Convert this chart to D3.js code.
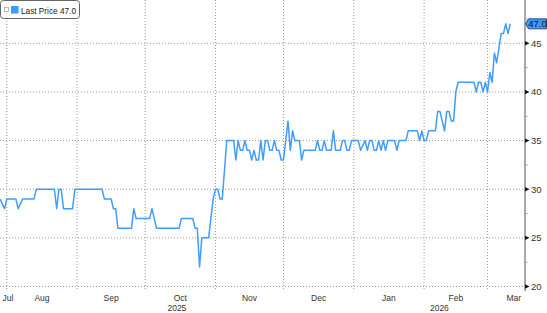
<!DOCTYPE html>
<html>
<head>
<meta charset="utf-8">
<script src="https://cdn.jsdelivr.net/npm/d3@7"></script>
<style>
  body { margin: 0; background: #fff; }
  .chart text { font-family: "Liberation Sans", Arial, sans-serif; }
  .grid line { stroke: #9a9a9a; stroke-width: 1; stroke-dasharray: 1,2; }
</style>
</head>
<body>
<div class="chart"></div>
<script>
// price history
const dates = [
  "2025-07-29","2025-07-31","2025-08-01","2025-08-05","2025-08-06","2025-08-08","2025-08-13","2025-08-14",
  "2025-08-22","2025-08-23","2025-08-24","2025-08-25","2025-08-26","2025-08-30","2025-08-31","2025-09-12",
  "2025-09-13","2025-09-16","2025-09-17","2025-09-18","2025-09-19","2025-09-25","2025-09-26","2025-09-27",
  "2025-10-03","2025-10-04","2025-10-06","2025-10-16","2025-10-17","2025-10-22","2025-10-23","2025-10-24",
  "2025-10-25","2025-10-26","2025-10-29","2025-10-31","2025-11-01","2025-11-02","2025-11-03","2025-11-04",
  "2025-11-06","2025-11-09","2025-11-10","2025-11-11","2025-11-12","2025-11-13","2025-11-14","2025-11-15",
  "2025-11-16","2025-11-17","2025-11-18","2025-11-19","2025-11-20","2025-11-21","2025-11-22","2025-11-23",
  "2025-11-24","2025-11-25","2025-11-26","2025-11-27","2025-11-28","2025-11-29","2025-11-30","2025-12-01",
  "2025-12-02","2025-12-03","2025-12-04","2025-12-05","2025-12-06","2025-12-08","2025-12-09","2025-12-10",
  "2025-12-15","2025-12-16","2025-12-17","2025-12-18","2025-12-19","2025-12-20","2025-12-22","2025-12-23",
  "2025-12-24","2025-12-26","2025-12-27","2025-12-28","2025-12-29","2025-12-30","2025-12-31","2026-01-03",
  "2026-01-04","2026-01-06","2026-01-07","2026-01-08","2026-01-09","2026-01-10","2026-01-11","2026-01-12",
  "2026-01-13","2026-01-14","2026-01-15","2026-01-16","2026-01-19","2026-01-20","2026-01-21","2026-01-24",
  "2026-01-25","2026-01-29","2026-01-30","2026-01-31","2026-02-01","2026-02-02","2026-02-03","2026-02-06",
  "2026-02-07","2026-02-08","2026-02-10","2026-02-11","2026-02-12","2026-02-13","2026-02-14","2026-02-15",
  "2026-02-16","2026-02-23","2026-02-24","2026-02-25","2026-02-26","2026-02-27","2026-02-28","2026-03-01",
  "2026-03-02","2026-03-03","2026-03-04","2026-03-05","2026-03-07","2026-03-08","2026-03-09","2026-03-10",
  "2026-03-11"
]
const prices = [
  29,28,29,29,28,29,29,30,
  30,28,30,30,28,28,30,30,
  29,29,28,28,26,26,28,27,
  27,28,26,26,27,27,26,26,
  22,25,25,29,30,30,29,29,
  35,35,33,35,34,34,35,34,
  34,33,34,33,33,35,33,35,
  35,34,34,35,34,34,33,33,
  35,37,34,36,35,35,33,34,
  34,35,34,34,35,34,34,36,
  34,34,35,35,34,34,35,35,
  34,35,34,35,35,34,34,35,
  34,35,34,35,35,34,35,35,
  36,36,35,36,35,35,36,36,
  38,38,36,38,38,37,37,40,
  41,41,40,41,41,40,41,40,
  42,41,44,43,46,46,47,46,
  47
]
const yTicks = [20, 25, 30, 35, 40, 45]
const yMinorTicks = [22.5, 27.5, 32.5, 37.5, 42.5, 47.5]
const monthNames = ["Jul", "Aug", "Sep", "Oct", "Nov", "Dec", "Jan", "Feb", "Mar"]
const yearNames = ["2025", "2026"]
const legendLabel = "Last Price"
const lastPrice = 47.0

const width = 547
const height = 313
const plotRight = 525
const plotBottom = 291

const parseDate = d3.timeParse('%Y-%m-%d')
const data = dates.map((d, i) => ({ date: parseDate(d), value: prices[i] }))

const svg = d3.select('.chart')
  .append('svg')
  .attr('width', width)
  .attr('height', height)

const x = d3.scaleTime()
  .domain([new Date(2025, 6, 29), new Date(2026, 2, 17, 12)])
  .range([0, plotRight])

const y = d3.scaleLinear()
  .domain([20, 45])
  .range([286.5, 43.3])

// gridlines
const grid = svg.append('g').attr('class', 'grid')

grid.selectAll('.hline')
  .data(yTicks)
  .join('line')
  .attr('x1', 0)
  .attr('x2', plotRight)
  .attr('y1', d => y(d))
  .attr('y2', d => y(d))

const monthStarts = d3.timeMonth.range(new Date(2025, 7, 1), new Date(2026, 2, 2))

grid.selectAll('.vline')
  .data(monthStarts)
  .join('line')
  .attr('x1', d => x(d))
  .attr('x2', d => x(d))
  .attr('y1', 0)
  .attr('y2', plotBottom)

// price line
svg.append('clipPath')
  .attr('id', 'plotClip')
  .append('rect')
  .attr('x', 0).attr('y', 0)
  .attr('width', plotRight).attr('height', plotBottom)

const line = d3.line()
  .x(d => x(d.date))
  .y(d => y(d.value))

svg.append('path')
  .datum(data)
  .attr('clip-path', 'url(#plotClip)')
  .attr('fill', 'none')
  .attr('stroke', '#3f9dff')
  .attr('stroke-width', 1.5)
  .attr('stroke-linejoin', 'round')
  .attr('d', line)

// right axis
svg.append('line')
  .attr('x1', plotRight).attr('x2', plotRight)
  .attr('y1', 0).attr('y2', plotBottom)
  .attr('stroke', '#7a7a7a')
  .attr('stroke-width', 1.3)

svg.selectAll('.minorTick')
  .data(yMinorTicks)
  .join('line')
  .attr('x1', plotRight).attr('x2', plotRight + 2.5)
  .attr('y1', d => y(d)).attr('y2', d => y(d))
  .attr('stroke', '#999')

svg.selectAll('.tickMark')
  .data(yTicks)
  .join('path')
  .attr('d', d => `M${plotRight},${y(d) - 2.2}L${plotRight + 4.5},${y(d)}L${plotRight},${y(d) + 2.2}Z`)
  .attr('fill', '#111')

svg.selectAll('.yLabel')
  .data(yTicks)
  .join('text')
  .attr('x', plotRight + 6)
  .attr('y', d => y(d))
  .attr('dy', '0.35em')
  .attr('font-size', 9.5)
  .attr('fill', '#333')
  .text(d => d)

// month / year labels
const months = d3.timeMonth.range(new Date(2025, 6, 1), new Date(2026, 2, 2))
svg.selectAll('.monthLabel')
  .data(months)
  .join('text')
  .attr('x', (d, i) => {
    const a = Math.max(x(d), 0)
    const b = Math.min(x(d3.timeMonth.offset(d, 1)), 540)
    return Math.max((a + b) / 2, 8)
  })
  .attr('y', 300.5)
  .attr('text-anchor', 'middle')
  .attr('font-size', 8.5)
  .attr('fill', '#333')
  .text((d, i) => monthNames[i])

const years = [new Date(2025, 0, 1), new Date(2026, 0, 1)]
svg.selectAll('.yearLabel')
  .data(years)
  .join('text')
  .attr('x', d => {
    const a = Math.max(x(d), 0)
    const b = Math.min(x(d3.timeYear.offset(d, 1)), plotRight)
    return (a + b) / 2
  })
  .attr('y', 311)
  .attr('text-anchor', 'middle')
  .attr('font-size', 8.5)
  .attr('fill', '#333')
  .text((d, i) => yearNames[i])

// last price marker
const ly = y(lastPrice)
svg.append('path')
  .attr('d', `M${plotRight + 0.5},${ly}L${plotRight + 3.5},${ly - 5}L${width - 0.5},${ly - 5}L${width - 0.5},${ly + 5}L${plotRight + 3.5},${ly + 5}Z`)
  .attr('fill', '#3d9bff')
  .attr('stroke', '#12305e')
  .attr('stroke-width', 0.8)

svg.append('text')
  .attr('x', 537.5)
  .attr('y', ly)
  .attr('dy', '0.36em')
  .attr('text-anchor', 'middle')
  .attr('font-size', 9.5)
  .attr('fill', '#111')
  .text(lastPrice.toFixed(1))

// legend
const legend = svg.append('g')

legend.append('rect')
  .attr('x', 0.5).attr('y', 0.5)
  .attr('width', 79).attr('height', 18)
  .attr('rx', 3)
  .attr('fill', '#fff')
  .attr('stroke', '#666')

legend.append('rect')
  .attr('x', 4.5).attr('y', 7.5)
  .attr('width', 4).attr('height', 4)
  .attr('fill', 'none')
  .attr('stroke', '#aaa')
  .attr('stroke-width', 0.8)

legend.append('rect')
  .attr('x', 11).attr('y', 6)
  .attr('width', 7.5).attr('height', 7.5)
  .attr('fill', '#3d9bff')

legend.append('text')
  .attr('x', 21)
  .attr('y', 13.5)
  .attr('font-size', 9.5)
  .attr('fill', '#222')
  .attr('textLength', 55)
  .attr('lengthAdjust', 'spacingAndGlyphs')
  .text(`${legendLabel} ${lastPrice.toFixed(1)}`)
</script>
</body>
</html>
